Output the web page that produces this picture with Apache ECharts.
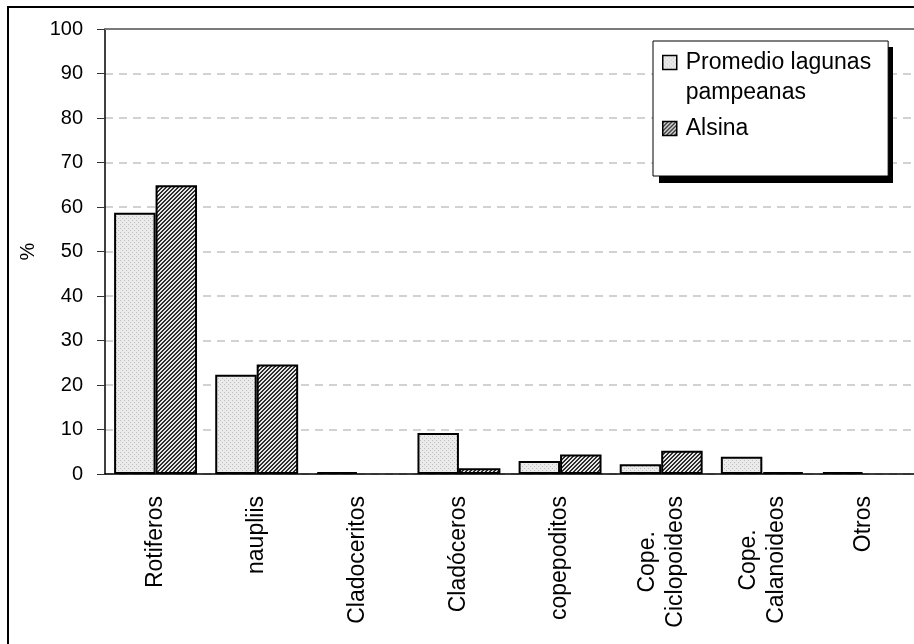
<!DOCTYPE html>
<html>
<head>
<meta charset="utf-8">
<script src="https://cdn.jsdelivr.net/npm/echarts@6/dist/echarts.min.js"></script>
<style>
  html, body { margin: 0; padding: 0; background: #fff; }
  #chart { width: 914px; height: 644px; }
</style>
</head>
<body>
<div id="chart"></div>
<script>
// Zooplankton composition (%): average of Pampean shallow lakes vs. Alsina
const categories = ['Rotiferos', 'naupliis', 'Cladoceritos', 'Cladóceros', 'copepoditos',
  'Cope.\nCiclopoideos', 'Cope.\nCalanoideos', 'Otros'];
const promedioName = 'Promedio lagunas pampeanas';
const alsinaName = 'Alsina';
const promedioValues = [58.7, 22.3, 0.4, 9.2, 2.9, 2.2, 3.9, 0.4];
const alsinaValues = [64.9, 24.6, null, 1.3, 4.4, 5.2, 0.4, null];
const yTicks = { min: 0, max: 100, interval: 10 };

const FONT = 'Liberation Sans, Arial, sans-serif';

// small repeating fills: fine dots for the average, dense hatching for Alsina
function makePattern(kind) {
  const c = document.createElement('canvas');
  c.width = 4; c.height = 4;
  const ctx = c.getContext('2d');
  if (kind === 'dots') {
    ctx.fillStyle = '#ebebeb';
    ctx.fillRect(0, 0, 4, 4);
    ctx.fillStyle = '#bdbdbd';
    ctx.fillRect(0, 0, 1, 1);
    ctx.fillRect(2, 2, 1, 1);
  } else {
    for (let x = 0; x < 4; x++) {
      for (let y = 0; y < 4; y++) {
        ctx.fillStyle = ((x + y) % 4 < 2) ? '#2e2e2e' : '#e6e6e6';
        ctx.fillRect(x, y, 1, 1);
      }
    }
  }
  return { image: c, repeat: 'repeat' };
}

const dots = makePattern('dots');
const hatch = makePattern('hatch');

const chart = echarts.init(document.getElementById('chart'), null, { renderer: 'canvas' });

chart.setOption({
  animation: false,
  backgroundColor: '#fff',
  graphic: [{
    // outer frame of the chart area
    type: 'rect',
    shape: { x: 8, y: 7, width: 1200, height: 1200 },
    style: { fill: null, stroke: '#000', lineWidth: 2 },
    silent: true,
    z: 0
  }, {
    // hard drop shadow behind the legend box
    type: 'rect',
    shape: { x: 659, y: 47, width: 234, height: 136 },
    style: { fill: '#000' },
    silent: true,
    z: 3
  }],
  grid: { left: 105, right: -6, top: 29, bottom: 170, containLabel: false },
  legend: {
    orient: 'vertical',
    left: 653,
    top: 41,
    padding: [10, 17, 36, 9],
    itemGap: 13,
    itemWidth: 14,
    itemHeight: 14,
    icon: 'rect',
    selectedMode: false,
    backgroundColor: '#fff',
    borderColor: '#000',
    borderWidth: 1,
    z: 10,
    itemStyle: { borderColor: '#000', borderWidth: 1.5 },
    textStyle: {
      padding: [0, 0, 0, 4],
      rich: { a: { fontFamily: FONT, fontSize: 23, lineHeight: 30, color: '#000' } }
    },
    formatter: function (name) {
      if (name === promedioName) return '{a|Promedio lagunas}\n{a|pampeanas}';
      return '{a|' + name + '}';
    },
    data: [
      { name: promedioName, textStyle: { height: 30 } },
      { name: alsinaName }
    ]
  },
  xAxis: [{
    type: 'category',
    data: categories,
    axisLine: { lineStyle: { color: '#000', width: 1.5 } },
    axisTick: { show: false },
    axisLabel: {
      interval: 0,
      rotate: 90,
      margin: 22,
      color: '#000',
      formatter: function (v) {
        return v.split('\n').map(function (s) { return '{c|' + s + '}'; }).join('\n');
      },
      rich: { c: { fontFamily: FONT, fontSize: 23, lineHeight: 28, align: 'center', color: '#000' } }
    },
    splitLine: { show: false }
  }, {
    type: 'category',
    position: 'top',
    data: categories,
    axisLine: { lineStyle: { color: '#7a7a7a', width: 2 } },
    axisTick: { show: false },
    axisLabel: { show: false },
    splitLine: { show: false }
  }],
  yAxis: {
    type: 'value',
    min: yTicks.min,
    max: yTicks.max,
    interval: yTicks.interval,
    name: '%',
    nameLocation: 'middle',
    nameGap: 66,
    nameTextStyle: { fontFamily: FONT, fontSize: 20, color: '#000' },
    axisLine: { show: true, lineStyle: { color: '#000', width: 1.5 } },
    axisTick: { show: true, length: 8, lineStyle: { color: '#333', width: 1 } },
    axisLabel: { margin: 22, fontFamily: FONT, fontSize: 20, color: '#000' },
    splitLine: { show: true, lineStyle: { color: '#c4c4c4', width: 1.5, type: [8, 6] } }
  },
  series: [{
    name: promedioName,
    type: 'bar',
    data: promedioValues,
    barGap: '0%',
    barCategoryGap: '18%',
    itemStyle: { color: dots, borderColor: '#000', borderWidth: 2 },
    emphasis: { disabled: true }
  }, {
    name: alsinaName,
    type: 'bar',
    data: alsinaValues,
    barGap: '0%',
    barCategoryGap: '18%',
    itemStyle: { color: hatch, borderColor: '#000', borderWidth: 2 },
    emphasis: { disabled: true }
  }]
});
</script>
</body>
</html>
